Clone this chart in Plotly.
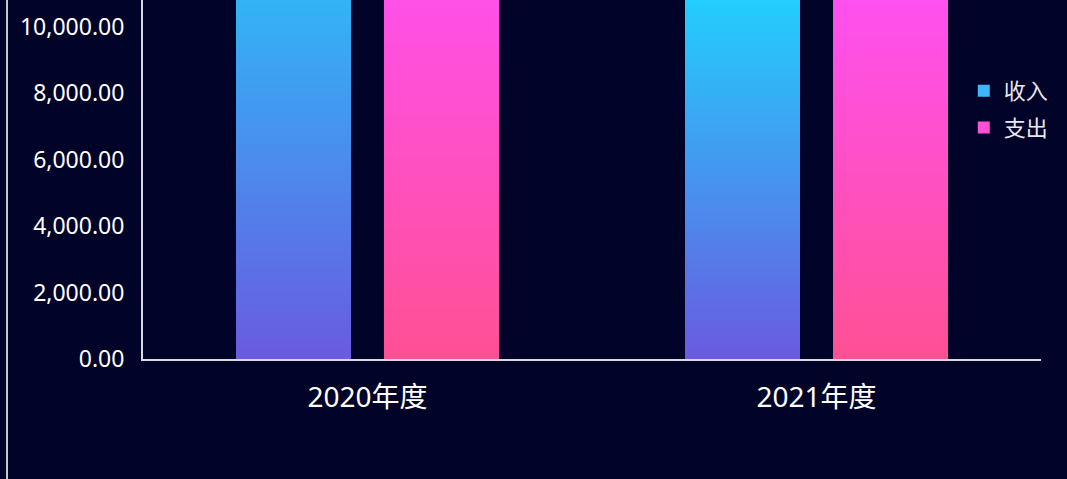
import plotly.graph_objects as go

categories = ["2020年度", "2021年度"]
income = [14800, 11500]
expense = [12500, 11400]
series_names = ["收入", "支出"]
tick_vals = [0, 2000, 4000, 6000, 8000, 10000]

N_SEG = 120
grad_income = ((106, 90, 224), (30, 213, 255))   # bottom -> top
grad_expense = ((255, 80, 148), (255, 80, 245))

def lerp(c0, c1, t):
    return "rgb(%d,%d,%d)" % tuple(round(a + (b - a) * t) for a, b in zip(c0, c1))

fig = go.Figure()
for name, vals, grad, swatch in [
    (series_names[0], income, grad_income, "#3fb6f6"),
    (series_names[1], expense, grad_expense, "#ff4fd6"),
]:
    for k in range(N_SEG):
        t = (k + 0.5) / N_SEG
        fig.add_trace(go.Bar(
            x=categories,
            y=[v * (N_SEG - k) / N_SEG for v in vals],
            base=[v * k / N_SEG for v in vals],
            offsetgroup=name,
            marker=dict(color=lerp(grad[0], grad[1], t), line=dict(width=0)),
            showlegend=False,
            legendgroup=name,
            hoverinfo="skip",
        ))
    fig.add_trace(go.Bar(
        x=[categories[0]], y=[None], name=name, offsetgroup=name,
        legendgroup=name,
        marker=dict(color=swatch, line=dict(width=0)),
    ))

fig.update_layout(
    width=1067, height=479,
    margin=dict(l=143, r=26, t=0, b=120),
    paper_bgcolor="#020328", plot_bgcolor="#020328",
    barmode="group", bargap=0.345, bargroupgap=0.218,
    font=dict(family="Noto Sans, Noto Sans CJK SC", color="#ffffff"),
    legend=dict(
        x=0.914, y=0.805, xanchor="left", yanchor="top",
        font=dict(size=22, color="#e8e8f0", family="Noto Sans CJK SC"),
        bgcolor="rgba(0,0,0,0)", tracegroupgap=5, traceorder="grouped",
    ),
    xaxis=dict(
        showgrid=False, showline=True, linecolor="#d8d8e0", linewidth=2,
        tickfont=dict(size=28, color="#ffffff"), ticks="", ticklabelstandoff=12,
        zeroline=False,
    ),
    yaxis=dict(
        range=[0, 10813], tickvals=tick_vals, tickformat=",.2f",
        showgrid=False, showline=True, linecolor="#d8d8e0", linewidth=2,
        tickfont=dict(size=23, color="#ffffff"), ticks="", ticklabelstandoff=12,
        zeroline=False,
    ),
    shapes=[dict(
        type="line", xref="paper", yref="paper",
        x0=(7 - 143) / 898, x1=(7 - 143) / 898, y0=1, y1=-120 / 359,
        line=dict(color="#c8c8d0", width=2),
    )],
)

post = (
    "document.body.style.margin='0';"
    "document.body.style.background='#020328';"
    "var fix=function(){document.querySelectorAll('.barlayer path').forEach("
    "function(p){p.style.shapeRendering='crispEdges';});};"
    "fix();var gd=document.getElementById('{plot_id}');"
    "if(gd&&gd.on){gd.on('plotly_afterplot',fix);}"
)

fig.write_html(
    "out.html",
    config={"displayModeBar": False},
    post_script=post,
)
